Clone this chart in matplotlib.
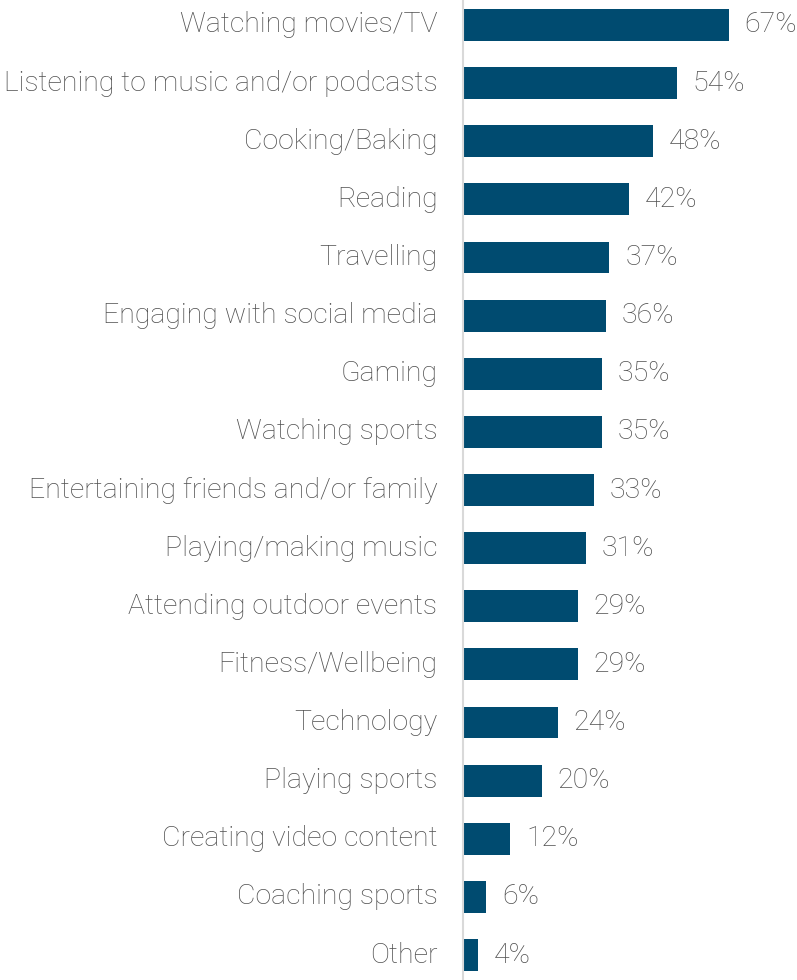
import matplotlib.pyplot as plt

# Data
categories = ["Watching movies/TV", "Listening to music and/or podcasts", "Cooking/Baking",
              "Reading", "Travelling", "Engaging with social media", "Gaming",
              "Watching sports", "Entertaining friends and/or family", "Playing/making music",
              "Attending outdoor events", "Fitness/Wellbeing", "Technology", "Playing sports",
              "Creating video content", "Coaching sports", "Other"]
values = [67, 54, 48, 42, 37, 36, 35, 35, 33, 31, 29, 29, 24, 20, 12, 6, 4]

bar_color = "#004b70"
text_color = "#505050"

plt.rcParams['font.family'] = ['Roboto', 'DejaVu Sans']

fig = plt.figure(figsize=(7.97, 9.8), dpi=100)
ax = fig.add_axes([462.5 / 797, 0, 1 - 462.5 / 797, 1])

pos = list(range(len(categories)))
ax.barh(pos, values, height=0.55, color=bar_color)

for p, v in zip(pos, values):
    ax.text(v + 4, p, f"{v}%", va="center", ha="left", fontsize=20.5,
            color=text_color, fontweight="light")

ax.set_yticks(pos)
ax.set_yticklabels(categories, fontsize=20.5, color=text_color, fontweight="light",
                   va="center")
ax.tick_params(axis="y", length=0, pad=18)
ax.set_xticks([])
ax.set_xlim(0, 84.2)
ax.set_ylim(16.43, -0.43)

for s in ["top", "right", "bottom"]:
    ax.spines[s].set_visible(False)
ax.spines["left"].set_color("#d9d9d9")
ax.spines["left"].set_linewidth(1.5)

fig.savefig("out.png", dpi=100)
